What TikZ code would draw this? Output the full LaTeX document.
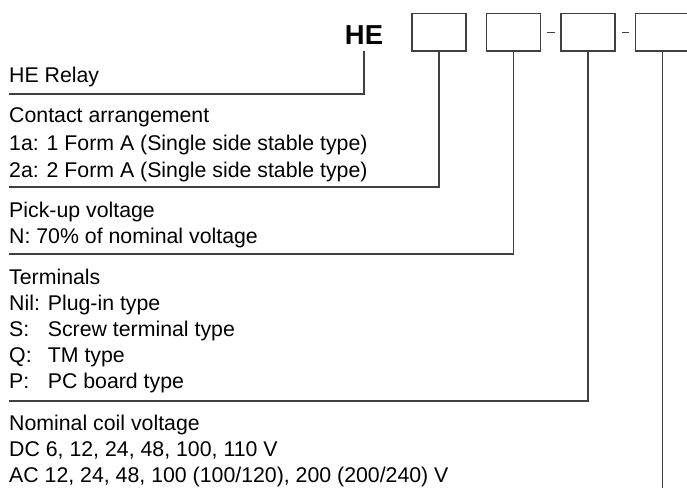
\documentclass[tikz,border=0pt]{standalone}
\usepackage{fontspec}
\setmainfont{Liberation Sans}
\usetikzlibrary{calc}
\begin{document}
\begin{tikzpicture}[x=1pt,y=-1pt,
  lbl/.style={anchor=base west, inner sep=0pt, font=\fontsize{21.3}{26}\selectfont},
  ln/.style={draw=black!75, line width=1.1pt},
  codebox/.style={draw=black!75, line width=1.1pt, minimum width=54pt, minimum height=37.7pt, inner sep=0pt},
  sep/.style={draw=black!75, line width=1pt}]
\useasboundingbox (0,0) rectangle (687,489);
% code header
\node[anchor=base, inner xsep=0pt, inner ysep=5.5pt, font=\fontsize{27.4}{30}\selectfont\bfseries] (he) at (364,45) {HE};
\node[codebox] (b1) at (439,32.2) {};
\node[codebox] (b2) at (513.5,32.2) {};
\node[codebox] (b3) at (588,32.2) {};
\node[codebox] (b4) at (662.5,32.2) {};
\draw[sep] ($(b2.east)!0.33!(b3.west)$) -- ($(b2.east)!0.71!(b3.west)$);
\draw[sep] ($(b3.east)!0.33!(b4.west)$) -- ($(b3.east)!0.71!(b4.west)$);
% texts
\node[lbl] (t0) at (9,83) {HE Relay};
\node[lbl] (t1) at (9,123) {Contact arrangement};
\node[lbl] (t1a) at (9,150) {1a: 1 Form A (Single side stable type)};
\node[lbl] (t1b) at (9,177) {2a: 2 Form A (Single side stable type)};
\node[lbl] (t2) at (9,217) {Pick-up voltage};
\node[lbl] (t2a) at (9,243) {N: 70\% of nominal voltage};
\node[lbl] (t3) at (9,284) {Terminals};
\node[lbl] (t3a) at (9,310) {Nil: Plug-in type};
\node[lbl] (t3b) at (9,336.5) {\rlap{S:}\phantom{Nil: }Screw terminal type};
\node[lbl] (t3c) at (9,362) {\rlap{Q:}\phantom{Nil: }TM type};
\node[lbl] (t3d) at (9,388) {\rlap{P:}\phantom{Nil: }PC board type};
\node[lbl] (t4) at (9,430) {Nominal coil voltage};
\node[lbl] (t4a) at (9,456) {DC 6, 12, 24, 48, 100, 110 V};
\node[lbl] (t4b) at (9,482) {AC 12, 24, 48, 100 (100/120), 200 (200/240) V};
% leader lines
\coordinate (u0) at (9,94);
\coordinate (u1) at (9,187);
\coordinate (u2) at (9,254);
\coordinate (u3) at (9,401);
\coordinate (u4) at (662.5,488);
\draw[ln] (he.south) |- (u0);
\draw[ln] (b1.south) |- (u1);
\draw[ln] (b2.south) |- (u2);
\draw[ln] (b3.south) |- (u3);
\draw[ln] (b4.south) -- (u4);
\end{tikzpicture}
\end{document}
